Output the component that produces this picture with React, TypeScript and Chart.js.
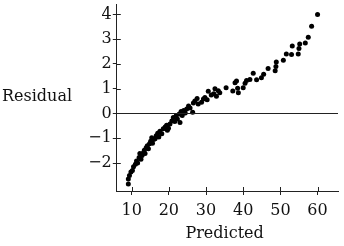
import React, { useEffect, useRef } from "react";
import { Chart, registerables } from "chart.js";
Chart.register(...registerables);

const predicted = [
  9.1, 9.1, 9.4, 9.8, 10.2, 10.5, 11.0, 11.3, 11.6, 12.0, 12.2, 12.5, 12.8, 13.1, 13.4, 13.6,
  13.9, 14.2, 14.5, 14.8, 15.1, 15.4, 15.6, 15.9, 16.3, 16.6, 17.0, 17.3, 17.6, 18.1, 18.5,
  19.0, 19.4, 19.6, 19.9, 20.3, 20.8, 21.2, 21.6, 22.0, 22.3, 22.8, 23.0, 23.3, 23.6, 24.0,
  24.4, 24.8, 25.3, 25.7, 26.4, 26.6, 27.0, 27.6, 27.9, 28.8, 29.3, 29.7, 30.3, 30.6, 31.4,
  32.1, 32.4, 32.8, 33.3, 33.7, 35.4, 37.2, 37.8, 38.2, 38.5, 38.7, 40.0, 40.5, 40.9, 41.8,
  42.7, 43.6, 44.9, 45.5, 46.7, 48.6, 48.8, 48.9, 50.8, 51.6, 53.0, 53.2, 54.8, 55.0, 55.2,
  56.7, 57.5, 58.4, 60.0,
];
const residual = [
  -2.85, -2.65, -2.5, -2.36, -2.3, -2.15, -2.05, -1.92, -2.0, -1.78, -1.62, -1.85, -1.7, -1.6,
  -1.48, -1.62, -1.38, -1.3, -1.42, -1.22, -1.12, -0.98, -1.2, -1.05, -1.02, -0.9, -0.8, -0.95,
  -0.72, -0.82, -0.62, -0.55, -0.48, -0.68, -0.6, -0.42, -0.3, -0.16, -0.32, -0.08, -0.22,
  -0.02, -0.36, 0.08, -0.08, 0.12, 0.02, 0.18, 0.3, 0.22, 0.05, 0.42, 0.5, 0.6, 0.38, 0.45,
  0.58, 0.65, 0.55, 0.9, 0.75, 0.8, 1.0, 0.7, 0.92, 0.84, 1.04, 0.91, 1.24, 1.31, 1.02, 0.84,
  1.04, 1.22, 1.33, 1.37, 1.62, 1.36, 1.44, 1.58, 1.82, 1.72, 1.9, 2.08, 2.15, 2.4, 2.38, 2.72,
  2.4, 2.62, 2.8, 2.85, 3.08, 3.52, 4.0,
];
const xTicks = [10, 20, 30, 40, 50, 60];
const yTicks = [-2, -1, 0, 1, 2, 3, 4];
const xTitle = "Predicted";
const yTitle = "Residual";

const FONT = "DejaVu Serif";
const INK = "#222";

const extras = {
  id: "extras",
  afterDraw(chart: any) {
    const { ctx, chartArea } = chart;
    const xs = chart.scales.x;
    const ys = chart.scales.y;
    ctx.save();
    ctx.strokeStyle = INK;
    ctx.lineWidth = 1.2;
    const y0 = Math.round(ys.getPixelForValue(0)) + 0.5;
    ctx.beginPath();
    ctx.moveTo(chartArea.left, y0);
    ctx.lineTo(chartArea.right, y0);
    ctx.stroke();
    ctx.lineWidth = 1;
    ctx.beginPath();
    for (const v of xTicks) {
      const px = Math.round(xs.getPixelForValue(v)) + 0.5;
      ctx.moveTo(px, chartArea.bottom);
      ctx.lineTo(px, chartArea.bottom - 4);
    }
    for (const v of yTicks) {
      const py = Math.round(ys.getPixelForValue(v)) + 0.5;
      ctx.moveTo(chartArea.left, py);
      ctx.lineTo(chartArea.left + 4, py);
    }
    ctx.stroke();
    ctx.fillStyle = "#111";
    ctx.font = `16px "${FONT}"`;
    ctx.textBaseline = "middle";
    ctx.textAlign = "left";
    ctx.fillText(yTitle, 2, 97);
    ctx.textAlign = "center";
    ctx.fillText(xTitle, (xs.getPixelForValue(10) + xs.getPixelForValue(60)) / 2, 234);
    ctx.restore();
  },
};

export default function App() {
  const ref = useRef<HTMLCanvasElement>(null);
  useEffect(() => {
    const chart = new Chart(ref.current!, {
      type: "scatter",
      data: {
        datasets: [
          {
            data: predicted.map((x, i) => ({ x, y: residual[i] })),
            backgroundColor: "#000",
            borderColor: "#000",
            pointRadius: 2.5,
            pointBorderWidth: 0,
          },
        ],
      },
      options: {
        animation: false,
        responsive: false,
        devicePixelRatio: 1,
        layout: { padding: { top: 3, right: 6, left: 0, bottom: 0 } },
        plugins: { legend: { display: false }, tooltip: { enabled: false } },
        scales: {
          x: {
            type: "linear",
            min: 6,
            max: 65.5,
            afterBuildTicks: (s: any) => {
              s.ticks = xTicks.map((v) => ({ value: v }));
            },
            afterFit: (s: any) => {
              s.height = 55;
              s.paddingLeft = 0;
              s.paddingRight = 0;
            },
            grid: { drawOnChartArea: false, tickLength: 4, color: INK },
            border: { color: INK, width: 1 },
            ticks: {
              font: { family: FONT, size: 16 },
              color: "#111",
              padding: 6,
              maxRotation: 0,
              autoSkip: false,
            },
          },
          y: {
            type: "linear",
            min: -3.13,
            max: 4.42,
            afterBuildTicks: (s: any) => {
              s.ticks = yTicks.map((v) => ({ value: v }));
            },
            afterFit: (s: any) => {
              s.width = 116.8;
              s.paddingTop = 0;
              s.paddingBottom = 0;
            },
            grid: { drawOnChartArea: false, tickLength: 4, color: INK },
            border: { color: INK, width: 1 },
            ticks: {
              font: { family: FONT, size: 16 },
              color: "#111",
              padding: 1,
              autoSkip: false,
              callback: (v: any) => (v < 0 ? "\u2212" + Math.abs(v) : String(v)),
            },
          },
        },
      },
      plugins: [extras],
    });
    return () => chart.destroy();
  }, []);
  return (
    <div style={{ position: "absolute", left: 0, top: 0 }}>
      <canvas ref={ref} width={344} height={246} style={{ width: 344, height: 246, display: "block" }} />
    </div>
  );
}
